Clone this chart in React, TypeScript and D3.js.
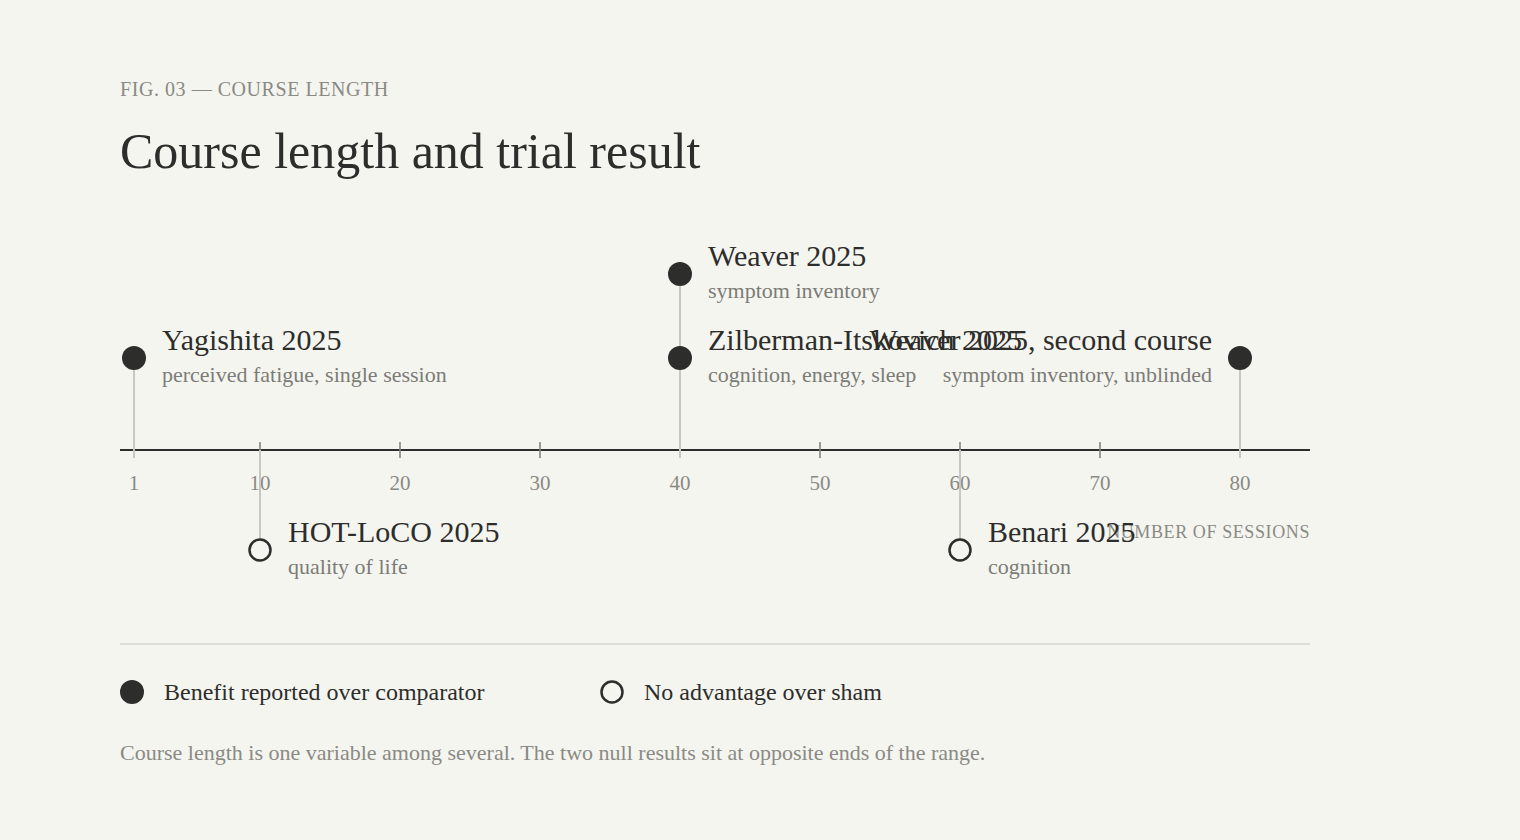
import React, { useEffect, useRef } from "react";
import * as d3 from "d3";

// trials, in drawing order (same-session benefits stack upward)
const studies = [
  "Yagishita 2025",
  "HOT-LoCO 2025",
  "Zilberman-Itskovich 2025",
  "Weaver 2025",
  "Benari 2025",
  "Weaver 2025, second course",
];
const sessions = [1, 10, 40, 40, 60, 80];
const outcomes = [
  "perceived fatigue, single session",
  "quality of life",
  "cognition, energy, sleep",
  "symptom inventory",
  "cognition",
  "symptom inventory, unblinded",
];
const results = ["benefit", "null", "benefit", "benefit", "null", "benefit"];
const tickValues = [1, 10, 20, 30, 40, 50, 60, 70, 80];
const legendLabels = ["Benefit reported over comparator", "No advantage over sham"];

const W = 1520;
const H = 840;
const BG = "#f5f5f0";
const INK = "#2d2d2b";
const GREY = "#8a8a84";
const SUB = "#7c7c77";
const FONT = "'Liberation Serif', 'Times New Roman', serif";

export default function App() {
  const ref = useRef<SVGSVGElement>(null);

  useEffect(() => {
    document.body.style.margin = "0";
    const svg = d3.select(ref.current);
    svg.selectAll("*").remove();

    svg.append("rect").attr("width", W).attr("height", H).attr("fill", BG);

    const x = d3.scaleLinear().domain([0, 85]).range([120, 1310]);
    const axisY = 450;
    const tierY = d3.scaleOrdinal<number, number>().domain([-1, 1, 2]).range([550, 358, 274]);

    // header
    svg.append("text")
      .attr("x", 120).attr("y", 96)
      .attr("font-family", FONT).attr("font-size", 20)
      .attr("letter-spacing", "0.55px")
      .attr("fill", GREY)
      .text("FIG. 03 — COURSE LENGTH");
    svg.append("text")
      .attr("x", 120).attr("y", 168)
      .attr("font-family", FONT).attr("font-size", 50)
      .attr("fill", INK)
      .text("Course length and trial result");

    // work out the stacking tier of each trial
    const seen: Record<string, number> = {};
    const rows = studies.map((name, i) => {
      const ok = results[i] === "benefit";
      let tier = -1;
      if (ok) {
        const k = String(sessions[i]);
        seen[k] = (seen[k] || 0) + 1;
        tier = seen[k];
      }
      return { name, n: sessions[i], outcome: outcomes[i], ok, tier };
    });

    // axis
    svg.append("line")
      .attr("x1", x(0)).attr("x2", x(85))
      .attr("y1", axisY).attr("y2", axisY)
      .attr("stroke", INK).attr("stroke-width", 2);

    const ax = svg.append("g");
    ax.selectAll("line")
      .data(tickValues)
      .join("line")
      .attr("x1", (d) => x(d)).attr("x2", (d) => x(d))
      .attr("y1", axisY - 8).attr("y2", axisY + 8)
      .attr("stroke", "#85857f").attr("stroke-width", 1.6);
    ax.selectAll("text")
      .data(tickValues)
      .join("text")
      .attr("x", (d) => x(d)).attr("y", 490)
      .attr("text-anchor", "middle")
      .attr("font-family", FONT).attr("font-size", 21)
      .attr("fill", GREY)
      .text((d) => String(d));

    svg.append("text")
      .attr("x", x(85)).attr("y", 538)
      .attr("text-anchor", "end")
      .attr("font-family", FONT).attr("font-size", 18)
      .attr("letter-spacing", "0.6px")
      .attr("fill", GREY)
      .text("NUMBER OF SESSIONS");

    // stems
    const stems = svg.append("g");
    stems.selectAll("line")
      .data(rows)
      .join("line")
      .attr("x1", (d) => x(d.n)).attr("x2", (d) => x(d.n))
      .attr("y1", (d) => tierY(d.tier))
      .attr("y2", (d) => (d.ok ? axisY + 8 : axisY))
      .attr("stroke", "#c8c8c3").attr("stroke-width", 2);

    // points
    const pts = svg.append("g");
    pts.selectAll("circle")
      .data(rows)
      .join("circle")
      .attr("cx", (d) => x(d.n)).attr("cy", (d) => tierY(d.tier))
      .attr("r", (d) => (d.ok ? 12 : 10.5))
      .attr("fill", (d) => (d.ok ? INK : BG))
      .attr("stroke", INK)
      .attr("stroke-width", (d) => (d.ok ? 0 : 2.5));

    // labels
    const labels = svg.append("g")
      .selectAll("g")
      .data(rows)
      .join("g")
      .attr("transform", (d) => {
        const left = d.n > 85 * 0.8;
        return `translate(${x(d.n) + (left ? -28 : 28)},${tierY(d.tier)})`;
      })
      .attr("text-anchor", (d) => (d.n > 85 * 0.8 ? "end" : "start"))
      .attr("font-family", FONT);
    labels.append("text")
      .attr("y", -8)
      .attr("font-size", 30)
      .attr("fill", INK)
      .text((d) => d.name);
    labels.append("text")
      .attr("y", 24)
      .attr("font-size", 22)
      .attr("fill", SUB)
      .text((d) => d.outcome);

    // divider
    svg.append("line")
      .attr("x1", 120).attr("x2", 1310)
      .attr("y1", 644).attr("y2", 644)
      .attr("stroke", "#deded9").attr("stroke-width", 2);

    // legend
    const lg = svg.append("g")
      .selectAll("g")
      .data(legendLabels)
      .join("g")
      .attr("transform", (_, i) => `translate(${120 + i * 480},692)`);
    lg.append("circle")
      .attr("cx", 12).attr("cy", 0)
      .attr("r", (_, i) => (i === 0 ? 12 : 10.5))
      .attr("fill", (_, i) => (i === 0 ? INK : BG))
      .attr("stroke", INK)
      .attr("stroke-width", (_, i) => (i === 0 ? 0 : 2.5));
    lg.append("text")
      .attr("x", 44).attr("y", 8)
      .attr("font-family", FONT).attr("font-size", 24)
      .attr("fill", INK)
      .text((d) => d);

    svg.append("text")
      .attr("x", 120).attr("y", 760)
      .attr("font-family", FONT).attr("font-size", 22)
      .attr("fill", GREY)
      .text("Course length is one variable among several. The two null results sit at opposite ends of the range.");
  }, []);

  return (
    <div style={{ position: "absolute", left: 0, top: 0 }}>
      <svg ref={ref} width={W} height={H} style={{ display: "block" }} />
    </div>
  );
}
